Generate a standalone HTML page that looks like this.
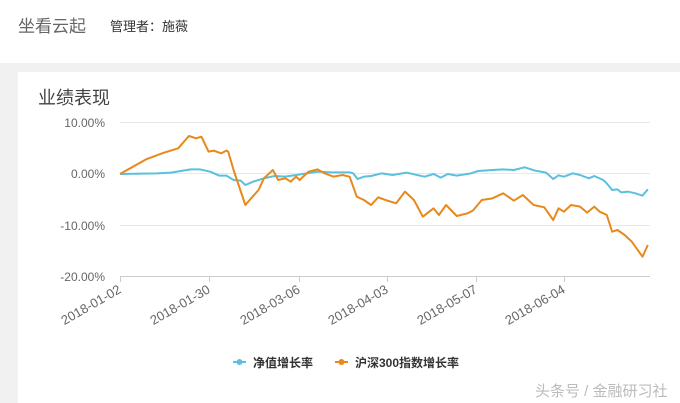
<!DOCTYPE html>
<html><head><meta charset="utf-8"><style>
body{margin:0;width:680px;height:403px;background:#f1f1f1;overflow:hidden;font-family:"Liberation Sans","Noto Sans CJK SC",sans-serif;position:relative}
.hdr{position:absolute;left:0;top:0;width:680px;height:63px;background:#fff}
.card{position:absolute;left:18px;top:72px;width:662px;height:331px;background:#fff}
.t{position:absolute;white-space:nowrap}
</style></head><body>
<div class="hdr"></div>
<div class="t" style="left:18px;top:12px;font-size:17px;color:#666">坐看云起</div>
<div class="t" style="left:110px;top:16px;font-size:13px;color:#333">管理者：施薇</div>
<div class="card"></div>
<div class="t" style="left:38px;top:84px;font-size:18px;color:#444">业绩表现</div>
<svg width="680" height="403" style="position:absolute;left:0;top:0">
<g stroke="#e8e8e8" stroke-width="1">
<line x1="120" y1="122.5" x2="650" y2="122.5"/><line x1="120" y1="173.5" x2="650" y2="173.5"/><line x1="120" y1="225.5" x2="650" y2="225.5"/>
</g>
<line x1="120" y1="276.5" x2="650" y2="276.5" stroke="#ccc"/>
<g stroke="#ccc"><line x1="120.5" y1="276" x2="120.5" y2="282"/><line x1="209.5" y1="276" x2="209.5" y2="282"/><line x1="299.5" y1="276" x2="299.5" y2="282"/><line x1="387.5" y1="276" x2="387.5" y2="282"/><line x1="476.5" y1="276" x2="476.5" y2="282"/><line x1="564.5" y1="276" x2="564.5" y2="282"/></g>
<g font-size="12" fill="#666" text-anchor="end" font-family="Liberation Sans,sans-serif">
<text x="105" y="127">10.00%</text><text x="105" y="178">0.00%</text><text x="105" y="230">-10.00%</text><text x="105" y="281">-20.00%</text>
</g>
<g font-size="13" fill="#666" text-anchor="end" font-family="Liberation Sans,sans-serif">
<g transform="translate(122,292) rotate(-30)"><text>2018-01-02</text></g>
<g transform="translate(211,292) rotate(-30)"><text>2018-01-30</text></g>
<g transform="translate(301,292) rotate(-30)"><text>2018-03-06</text></g>
<g transform="translate(389,292) rotate(-30)"><text>2018-04-03</text></g>
<g transform="translate(478,292) rotate(-30)"><text>2018-05-07</text></g>
<g transform="translate(566,292) rotate(-30)"><text>2018-06-04</text></g>
</g>
<g transform="translate(99.64,110) scale(0.35714,0.33333)" fill="none" stroke-width="2" stroke-linejoin="round">
<polyline vector-effect="non-scaling-stroke" stroke="#5bc0de" points="57,192 160,190 200,188 255,178 280,178 310,185 335,197 355,197 375,210 395,212 408,225 430,215 460,205 490,198 520,200 550,195 580,190 610,185 650,187 700,187 710,190 722,207 740,200 760,198 790,190 820,195 860,188 910,200 935,192 955,203 975,192 1000,197 1040,190 1060,183 1100,180 1130,178 1160,180 1190,172 1220,182 1250,188 1270,207 1285,196 1300,200 1325,190 1345,195 1370,205 1385,198 1410,210 1420,220 1435,240 1450,238 1460,247 1480,245 1500,250 1520,257 1535,238"/>
<polyline vector-effect="non-scaling-stroke" stroke="#e8891c" points="57,192 130,148 180,128 220,115 250,78 270,85 285,80 305,125 320,122 340,130 355,122 360,125 375,180 408,285 420,270 445,240 460,205 485,180 500,210 520,205 535,215 550,200 560,210 585,185 610,178 630,190 655,200 680,195 700,200 720,260 740,270 760,285 780,262 800,270 830,280 855,245 880,270 905,320 935,295 950,315 970,285 1000,318 1030,310 1045,302 1070,270 1100,265 1130,250 1160,272 1185,255 1215,285 1245,292 1270,330 1285,295 1300,305 1320,285 1345,290 1365,308 1385,290 1400,305 1420,315 1435,365 1450,360 1470,375 1490,395 1520,440 1535,405"/>
</g>
<line x1="233" y1="362" x2="246" y2="362" stroke="#5bc0de" stroke-width="2"/><circle cx="239.5" cy="362" r="3" fill="#5bc0de"/>
<line x1="335" y1="362" x2="348" y2="362" stroke="#e8891c" stroke-width="2"/><circle cx="341.5" cy="362" r="3" fill="#e8891c"/>
</svg>
<div class="t" style="left:253px;top:354px;font-size:12px;font-weight:bold;color:#333">净值增长率</div>
<div class="t" style="left:355px;top:354px;font-size:12px;font-weight:bold;color:#333">沪深300指数增长率</div>
<div class="t" style="left:535px;top:380px;font-size:15px;color:#bbb">头条号 / 金融研习社</div>
</body></html>
